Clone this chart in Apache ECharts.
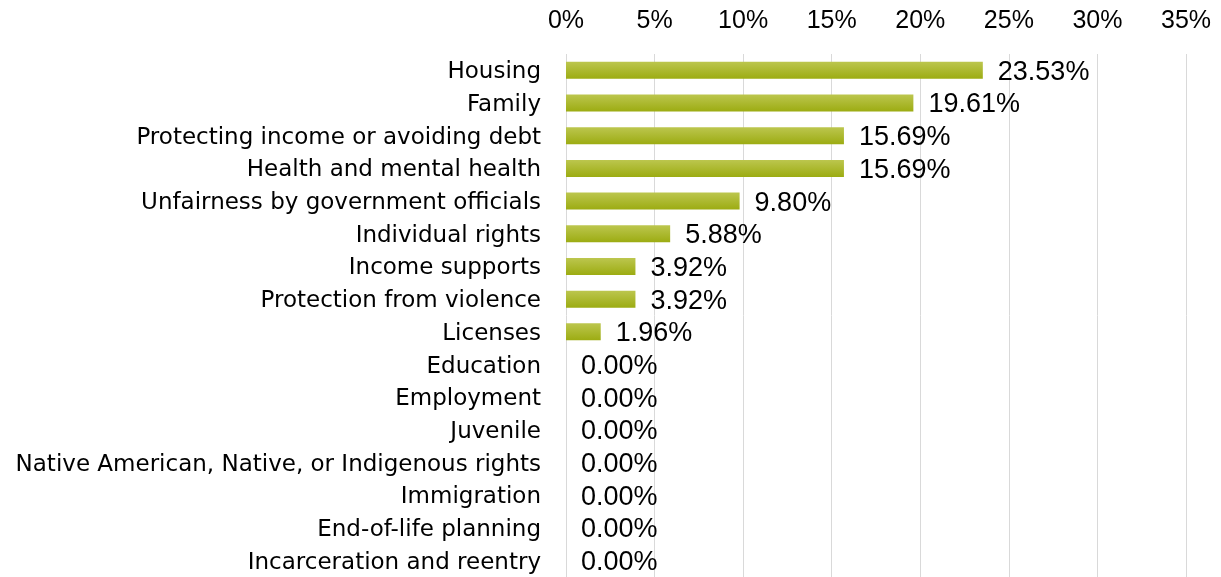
<!DOCTYPE html>
<html>
<head>
<meta charset="utf-8">
<script src="https://cdn.jsdelivr.net/npm/echarts@6/dist/echarts.min.js"></script>
<style>
  html, body { margin: 0; padding: 0; background: #ffffff; }
  #chart { width: 1221px; height: 577px; }
</style>
</head>
<body>
<div id="chart"></div>
<script>
// Share of issues by legal problem area (percent)
const categories = [
  'Housing',
  'Family',
  'Protecting income or avoiding debt',
  'Health and mental health',
  'Unfairness by government officials',
  'Individual rights',
  'Income supports',
  'Protection from violence',
  'Licenses',
  'Education',
  'Employment',
  'Juvenile',
  'Native American, Native, or Indigenous rights',
  'Immigration',
  'End-of-life planning',
  'Incarceration and reentry'
];
const shares = [23.53, 19.61, 15.69, 15.69, 9.80, 5.88, 3.92, 3.92, 1.96, 0, 0, 0, 0, 0, 0, 0];
const axisMax = 35;
const axisStep = 5;

const NUM_FONT = '"Liberation Sans", Arial, sans-serif';
const CAT_FONT = '"DejaVu Sans", Verdana, sans-serif';

const chart = echarts.init(document.getElementById('chart'), null, { renderer: 'canvas' });
chart.setOption({
  animation: false,
  grid: { left: 566, right: 35, top: 54, bottom: 0, containLabel: false },
  xAxis: {
    type: 'value',
    position: 'top',
    min: 0,
    max: axisMax,
    interval: axisStep,
    axisLine: { show: false },
    axisTick: { show: false },
    splitLine: { show: true, lineStyle: { color: '#d9d9d9', width: 1 } },
    axisLabel: {
      formatter: v => v + '%',
      color: '#000',
      fontFamily: NUM_FONT,
      fontSize: 25,
      margin: 20
    }
  },
  yAxis: {
    type: 'category',
    inverse: true,
    data: categories,
    axisLine: { show: false },
    axisTick: { show: false },
    axisLabel: {
      margin: 25,
      formatter: v => '{c|' + v + '}',
      rich: {
        c: {
          color: '#000',
          fontFamily: CAT_FONT,
          fontSize: 23,
          lineHeight: 23,
          padding: [4, 0, 0, 0]
        }
      }
    }
  },
  series: [{
    type: 'bar',
    data: shares,
    barWidth: 17,
    itemStyle: {
      color: new echarts.graphic.LinearGradient(0, 0, 0, 1, [
        { offset: 0, color: '#bcc64e' },
        { offset: 1, color: '#9cac12' }
      ])
    },
    label: {
      show: true,
      position: 'right',
      distance: 15,
      offset: [0, 2],
      formatter: p => p.value.toFixed(2) + '%',
      color: '#000',
      fontFamily: NUM_FONT,
      fontSize: 27
    }
  }]
});
</script>
</body>
</html>
